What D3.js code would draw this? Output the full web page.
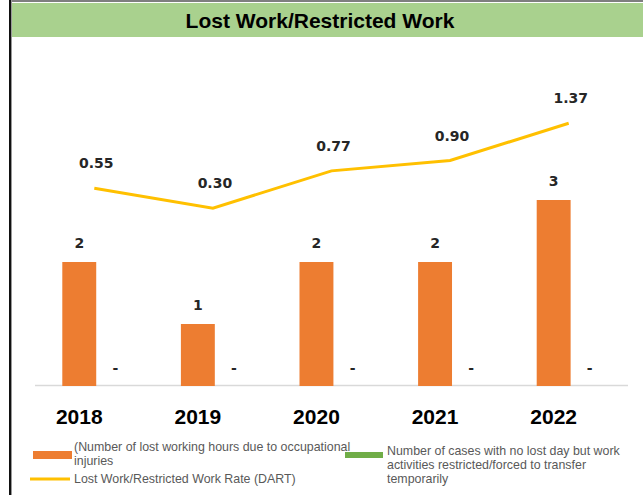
<!DOCTYPE html>
<html><head><meta charset="utf-8">
<script src="https://cdn.jsdelivr.net/npm/d3@7/dist/d3.min.js"></script>
<style>body{margin:0;background:#fff}svg{display:block}</style>
</head><body><svg id="c" width="643" height="495"></svg>
<script>
const title = "Lost Work/Restricted Work";
const years = ["2018","2019","2020","2021","2022"];
const lostCases = [2,1,2,2,3];
const restrictedCases = [0,0,0,0,0];
const dartRate = [0.55,0.30,0.77,0.90,1.37];
const legendLost = ["(Number of lost working hours due to occupational","injuries"];
const legendRestricted = ["Number of cases with no lost day but work","activities restricted/forced to transfer","temporarily"];
const legendDart = "Lost Work/Restricted Work Rate (DART)";

const svg = d3.select("#c");
const W=643,H=495;
// frame
svg.append("rect").attr("x",10).attr("y",0).attr("width",W-10).attr("height",2).attr("fill","#7f7f7f");
svg.append("rect").attr("x",11).attr("y",3).attr("width",W-11).attr("height",34).attr("fill","#a9d18e");
svg.append("rect").attr("x",9).attr("y",0).attr("width",2).attr("height",H).attr("fill","#111");
svg.append("rect").attr("x",11).attr("y",0).attr("width",1).attr("height",H).attr("fill","#999");
svg.append("text").attr("x",320).attr("y",28).attr("text-anchor","middle")
  .attr("font-family","Liberation Sans, Arial, sans-serif").attr("font-weight","bold").attr("font-size",21)
  .attr("fill","#000").text(title);

const x0 = d3.scaleBand().domain(years).range([35,628]);
const x1 = d3.scaleBand().domain(["lost","restricted"]).range([0,70]).paddingInner(0.06);
const y = d3.scaleLinear().domain([0,3]).range([386,200]);
const y2 = d3.scaleLinear().domain([0,1.37]).range([232,232-1.37*79.4]);
const gx = c => x0(c)+x0.bandwidth()/2-32;

// baseline
svg.append("line").attr("x1",35).attr("x2",628).attr("y1",385.5).attr("y2",385.5).attr("stroke","#d9d9d9").attr("stroke-width",1.5);

const g = svg.append("g");
g.selectAll(".b1").data(years).join("rect")
  .attr("x",(d)=>gx(d)+x1("lost")).attr("width",x1.bandwidth())
  .attr("y",(d,i)=>y(lostCases[i])).attr("height",(d,i)=>y(0)-y(lostCases[i]))
  .attr("fill","#ed7d31");
g.selectAll(".b2").data(years).join("rect")
  .attr("x",(d)=>gx(d)+x1("restricted")).attr("width",x1.bandwidth())
  .attr("y",(d,i)=>y(restrictedCases[i])).attr("height",(d,i)=>y(0)-y(restrictedCases[i]))
  .attr("fill","#70ad47");

const lblFont = "DejaVu Sans, Verdana, sans-serif";
g.selectAll(".l1").data(years).join("text")
  .attr("x",d=>gx(d)+x1("lost")+x1.bandwidth()/2).attr("y",(d,i)=>y(lostCases[i])-14)
  .attr("text-anchor","middle").attr("font-family",lblFont).attr("font-weight","bold").attr("font-size",14)
  .attr("fill","#262626").text((d,i)=>lostCases[i]);
g.selectAll(".l2").data(years).join("text")
  .attr("x",d=>gx(d)+x1("restricted")+x1.bandwidth()/2).attr("y",(d,i)=>y(restrictedCases[i])-13)
  .attr("text-anchor","middle").attr("font-family",lblFont).attr("font-weight","bold").attr("font-size",14)
  .attr("fill","#262626").text((d,i)=>restrictedCases[i]===0?"-":restrictedCases[i]);

// line
const line = d3.line().x((d,i)=>x0(years[i])+x0.bandwidth()/2).y(d=>y2(d));
g.append("path").datum(dartRate).attr("d",line).attr("fill","none").attr("stroke","#ffc000").attr("stroke-width",3);
g.selectAll(".l3").data(dartRate).join("text")
  .attr("x",(d,i)=>x0(years[i])+x0.bandwidth()/2+2).attr("y",d=>y2(d)-20)
  .attr("text-anchor","middle").attr("font-family",lblFont).attr("font-weight","bold").attr("font-size",14)
  .attr("fill","#262626").text(d=>d.toFixed(2));

// year labels
g.selectAll(".yl").data(years).join("text")
  .attr("x",d=>gx(d)+x1("lost")+x1.bandwidth()/2).attr("y",424)
  .attr("text-anchor","middle").attr("font-family","Liberation Sans, Arial, sans-serif").attr("font-weight","bold").attr("font-size",21)
  .attr("fill","#000").text(d=>d);

// legend
const lf = "Liberation Sans, Arial, sans-serif";
const leg = svg.append("g").attr("font-family",lf).attr("font-size",12.4).attr("fill","#595959");
leg.append("rect").attr("x",33).attr("y",451).attr("width",39).attr("height",8).attr("fill","#ed7d31");
leg.append("text").attr("x",74).attr("y",451).selectAll("tspan").data(legendLost).join("tspan")
  .attr("x",74).attr("dy",(d,i)=>i?14:0).text(d=>d);
leg.append("rect").attr("x",345).attr("y",452).attr("width",38).attr("height",6).attr("fill","#70ad47");
leg.append("text").attr("x",387).attr("y",455).selectAll("tspan").data(legendRestricted).join("tspan")
  .attr("x",387).attr("dy",(d,i)=>i?14:0).text(d=>d);
leg.append("line").attr("x1",30).attr("x2",70).attr("y1",479).attr("y2",479).attr("stroke","#ffc000").attr("stroke-width",3);
leg.append("text").attr("x",74).attr("y",483).text(legendDart);
</script></body></html>
